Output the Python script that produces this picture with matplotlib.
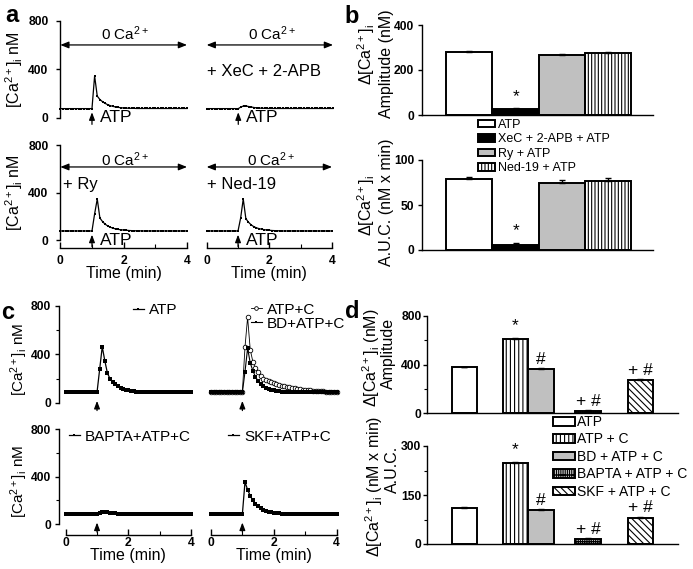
import numpy as np
import matplotlib
matplotlib.use("Agg")
import matplotlib.pyplot as plt

plt.rcParams['font.family'] = ['Liberation Sans', 'DejaVu Sans']
plt.rcParams['mathtext.fontset'] = 'custom'
plt.rcParams['mathtext.rm'] = 'Liberation Sans'
plt.rcParams['mathtext.it'] = 'Liberation Sans:italic'
plt.rcParams['mathtext.bf'] = 'Liberation Sans:bold'
plt.rcParams['mathtext.default'] = 'regular'
plt.rcParams['hatch.linewidth'] = 0.8

# ---------------- data ----------------
time_min = np.arange(49) * 5 / 60  # samples every 5 s, 0-4 min

a_atp = [75, 75, 75, 75, 75, 75, 75, 75, 75, 75, 75, 75, 75,
         345, 178, 150, 132, 118, 107, 99, 93, 88, 85, 82, 80, 79, 78, 77, 77, 76,
         76, 76, 76, 76, 76, 76, 76, 76, 76, 76, 76, 76, 76, 76, 76, 76, 76, 76, 76]
a_xec = [75, 75, 75, 75, 75, 75, 75, 75, 75, 75, 75, 75, 75,
         88, 97, 96, 92, 88, 84, 81, 79, 78, 77, 76,
         76, 76, 76, 76, 76, 76, 76, 76, 76, 76, 76, 76, 76, 76, 76, 76, 76, 76, 76, 76, 76, 76, 76, 76, 76]
a_ry = [76, 76, 76, 76, 76, 76, 76, 76, 76, 76, 76, 76, 76,
        220, 345, 185, 155, 133, 118, 107, 99, 93, 89, 86, 84, 82, 80, 79, 78, 77, 77,
        76, 76, 76, 76, 76, 76, 76, 76, 76, 76, 76, 76, 76, 76, 76, 76, 76, 76]
a_ned = [76, 76, 76, 76, 76, 76, 76, 76, 76, 76, 76, 76, 76,
         185, 345, 180, 150, 128, 113, 103, 96, 91, 87, 84, 82, 80, 79, 78, 77,
         76, 76, 76, 76, 76, 76, 76, 76, 76, 76, 76, 76, 76, 76, 76, 76, 76, 76, 76, 76]

c_atp = [86, 86, 86, 86, 86, 86, 86, 86, 86, 86, 86, 86, 86,
         275, 463, 345, 243, 198, 175, 158, 140, 125, 116, 108, 102, 98, 95, 92, 90, 89, 88, 87, 86,
         86, 86, 86, 86, 86, 86, 86, 86, 86, 86, 86, 86, 86, 86, 86, 86]
c_atpc = [87, 87, 87, 87, 87, 87, 87, 87, 87, 87, 87, 87, 87,
          460, 706, 440, 340, 285, 250, 222, 200, 184, 176, 168, 161, 154, 148, 142, 136,
          131, 126, 122, 118, 114, 111, 108, 105, 103, 101, 99, 97, 96, 94, 93, 92, 91, 90, 89, 89]
c_bd = [86, 86, 86, 86, 86, 86, 86, 86, 86, 86, 86, 86, 86,
        256, 450, 330, 265, 215, 180, 155, 137, 124, 114, 107, 101, 97, 94, 91, 89, 88, 87, 86,
        86, 86, 86, 86, 86, 86, 86, 86, 86, 86, 86, 86, 86, 86, 86, 86, 86]
c_bapta = [85, 85, 85, 85, 85, 85, 85, 85, 85, 85, 85, 85, 85,
           95, 103, 104, 101, 97, 94, 91, 89, 88, 87, 86,
           85, 85, 85, 85, 85, 85, 85, 85, 85, 85, 85, 85, 85, 85, 85, 85, 85, 85, 85, 85, 85, 85, 85, 85, 85]
c_skf = [85, 85, 85, 85, 85, 85, 85, 85, 85, 85, 85, 85, 85,
         355, 290, 240, 200, 172, 150, 134, 122, 113, 106, 101, 97, 94, 92, 90, 88, 87, 86,
         85, 85, 85, 85, 85, 85, 85, 85, 85, 85, 85, 85, 85, 85, 85, 85, 85, 85]

for s in (a_atp, a_xec, a_ry, a_ned, c_atp, c_atpc, c_bd, c_bapta, c_skf):
    assert len(s) == 49, len(s)

b_groups = ['ATP', 'XeC + 2-APB + ATP', 'Ry + ATP', 'Ned-19 + ATP']
b_amp = [278, 25, 268, 274]
b_amp_err = [5, 4, 5, 6]
b_auc = [78.5, 5.5, 75, 77]
b_auc_err = [3, 2, 3, 3.5]
b_marks = ['', '*', '', '']

d_groups = ['ATP', 'ATP + C', 'BD + ATP + C', 'BAPTA + ATP + C', 'SKF + ATP + C']
d_amp = [378, 612, 364, 20, 274]
d_amp_err = [6, 10, 8, 6, 8]
d_auc = [109, 248, 104, 14, 80]
d_auc_err = [4, 4, 4, 3, 4]
d_marks = ['', '*', '#', '+ #', '+ #']

# ---------------- layout helpers ----------------
W, H = 693, 569
fig = plt.figure(figsize=(W / 100, H / 100), dpi=100)


def px_ax(x0, x1, yb, yt):
    ax = fig.add_axes([x0 / W, 1 - yb / H, (x1 - x0) / W, (yb - yt) / H])
    ax.patch.set_visible(False)
    ax.spines['top'].set_visible(False)
    ax.spines['right'].set_visible(False)
    ax._px = (x0, x1, yb, yt)
    return ax


def fpt(x, y):
    return (x / W, 1 - y / H)


def bold_ticks(ax):
    for lab in ax.get_xticklabels() + ax.get_yticklabels():
        lab.set_fontweight('bold')
        lab.set_fontsize(8.7)


def set_ylabel_px(ax, text, xpx, yfrac=0.5, **kw):
    ax.set_ylabel(text, **kw)
    ax.yaxis.label.set_va('center')
    x0, x1, yb, yt = ax._px
    ax.yaxis.set_label_coords((xpx - x0) / (x1 - x0), yfrac)


def vtext(x, y, s, size):
    fig.text(*fpt(x, y), s, rotation=90, ha='center', va='center',
             rotation_mode='anchor', fontsize=size)


def trace_ax(x0, x1, yb, yt, show_y, show_x, y_out, x_out, ypad, xpad, minor_y):
    ax = px_ax(x0, x1, yb, yt)
    ax.set_xlim(0, 4)
    ax.set_ylim(0, 800)
    if show_y:
        ax.spines['left'].set_position(('outward', y_out))
        ax.set_yticks([0, 400, 800])
        if minor_y:
            ax.set_yticks([200, 600], minor=True)
        ax.tick_params(axis='y', which='major', direction='out', length=3, width=1, pad=ypad)
        ax.tick_params(axis='y', which='minor', direction='out', length=2, width=0.8)
    else:
        ax.spines['left'].set_visible(False)
        ax.tick_params(axis='y', which='both', left=False, labelleft=False)
    if show_x:
        ax.spines['bottom'].set_position(('outward', x_out))
        ax.set_xticks([0, 2, 4])
        ax.set_xticks([1, 3], minor=True)
        ax.tick_params(axis='x', which='major', direction='in', length=4, width=1, pad=xpad)
        ax.tick_params(axis='x', which='minor', direction='in', length=3, width=0.8)
        ax.set_xlabel('Time (min)', fontsize=11.5, labelpad=-1)
    else:
        ax.spines['bottom'].set_visible(False)
        ax.tick_params(axis='x', which='both', bottom=False, labelbottom=False)
    for sp in ax.spines.values():
        sp.set_linewidth(1.0)
    bold_ticks(ax)
    return ax


CA_LABEL = '[Ca$^{2+}$]$_{\\mathrm{i}}$ nM'

# ---------------- panel a ----------------
aTL = trace_ax(60.3, 187, 117.7, 20.7, True, False, 0, 6, 5.5, 5, False)
aTR = trace_ax(206.7, 333, 117.7, 20.7, False, False, 0, 6, 5.5, 5, False)
aBL = trace_ax(60.3, 187, 240, 145, True, True, 0, 6, 5.5, 5, False)
aBR = trace_ax(206.7, 332, 240, 145, False, True, 0, 6, 5.5, 5, False)

a_axes = [aTL, aTR, aBL, aBR]
a_series = [a_atp, a_xec, a_ry, a_ned]
a_notes = ['', '+ XeC + 2-APB', '+ Ry', '+ Ned-19']
a_note_xy = [(0, 0), (0.02, 348), (0.1, 431), (0.0, 431)]
a_arrow_y = [600, 600, 615, 615]
a_ca_y = [641, 641, 623, 623]

for ax, ser, note, nxy, ay, cy in zip(a_axes, a_series, a_notes, a_note_xy, a_arrow_y, a_ca_y):
    ax.plot(time_min, ser, color='k', lw=0.9, marker='s', ms=2.0, mew=0, clip_on=False)
    ax.annotate('', xy=(4, ay), xytext=(0, ay), annotation_clip=False,
                arrowprops=dict(arrowstyle='<|-|>,head_length=0.5,head_width=0.2',
                                color='k', lw=0.9, shrinkA=0, shrinkB=0))
    ax.text(2.05, cy, '0 Ca$^{2+}$', ha='center', va='baseline', fontsize=11)
    ax.annotate('', xy=(1, 45), xytext=(1, -55), annotation_clip=False,
                arrowprops=dict(arrowstyle='-|>,head_length=0.45,head_width=0.17',
                                color='k', lw=0.9, shrinkA=0, shrinkB=0))
    ax.text(1.25, 0, 'ATP', ha='left', va='center', fontsize=12.5)
    if note:
        ax.text(nxy[0], nxy[1], note, ha='left', va='baseline', fontsize=12)

set_ylabel_px(aTL, CA_LABEL, 14, fontsize=11.5)
set_ylabel_px(aBL, CA_LABEL, 14, fontsize=11.5)

# ---------------- panel c ----------------
cTL = trace_ax(65.7, 191, 402.7, 306, True, False, 4.6, 7.7, 3, 1.7, True)
cTR = trace_ax(211, 336.5, 402.7, 306, False, False, 4.6, 7.7, 3, 1.7, True)
cBL = trace_ax(65.7, 191, 524.3, 429, True, True, 4.6, 7.7, 3, 1.7, True)
cBR = trace_ax(211, 336.5, 524.3, 429, False, True, 4.6, 7.7, 3, 1.7, True)

l_atp, = cTL.plot(time_min, c_atp, color='k', lw=0.9, marker='s', ms=2.6, mew=0,
                  clip_on=False, label='ATP')
l_atpc, = cTR.plot(time_min, c_atpc, color='k', lw=0.6, marker='o', ms=3.3, mfc='white',
                   mec='k', mew=0.6, clip_on=False, label='ATP+C')
l_bd, = cTR.plot(time_min, c_bd, color='k', lw=0.8, marker='s', ms=2.4, mew=0,
                 clip_on=False, label='BD+ATP+C')
l_bapta, = cBL.plot(time_min, c_bapta, color='k', lw=0.9, marker='s', ms=2.2, mew=0,
                    clip_on=False, label='BAPTA+ATP+C')
l_skf, = cBR.plot(time_min, c_skf, color='k', lw=0.9, marker='s', ms=2.2, mew=0,
                  clip_on=False, label='SKF+ATP+C')

for ax in (cTL, cTR, cBL, cBR):
    ax.annotate('', xy=(1, 15), xytext=(1, -65), annotation_clip=False,
                arrowprops=dict(arrowstyle='-|>,head_length=0.45,head_width=0.17',
                                color='k', lw=0.9, shrinkA=0, shrinkB=0))

leg_kw = dict(frameon=False, fontsize=11, handlelength=0.7, handletextpad=0.35,
              borderpad=0, borderaxespad=0, labelspacing=0.0, markerscale=0.8,
              bbox_transform=fig.transFigure)
cTL.legend(handles=[l_atp], loc='center left', bbox_to_anchor=fpt(133, 310), **leg_kw)
cTR.legend(handles=[l_atpc, l_bd], loc='center left', bbox_to_anchor=fpt(251, 316.5), **leg_kw)
cBL.legend(handles=[l_bapta], loc='center left', bbox_to_anchor=fpt(69, 436.7), **leg_kw)
cBR.legend(handles=[l_skf], loc='center left', bbox_to_anchor=fpt(228, 436.7), **leg_kw)

set_ylabel_px(cTL, CA_LABEL, 19, yfrac=0.45, fontsize=11)
set_ylabel_px(cBL, CA_LABEL, 19, yfrac=0.45, fontsize=11)


# ---------------- bar panels ----------------
def bar_ax(x0, x1, yb, yt, pos, vals, errs, colors, hatches, ylim, yticks, yminor,
           xlim, marks, ypad):
    ax = px_ax(x0, x1, yb, yt)
    bars = ax.bar(pos, vals, width=1.0, color=colors, edgecolor='black', linewidth=1.4,
                  zorder=2)
    for b, h in zip(bars, hatches):
        if h:
            b.set_hatch(h)
    ax.errorbar(pos, vals, yerr=[np.zeros(len(vals)), errs], fmt='none', ecolor='black',
                elinewidth=1.0, capsize=2.5, capthick=1.0, zorder=3)
    for p, v, e, m in zip(pos, vals, errs, marks):
        if m:
            off = 5.5 if m == '*' else 3.0
            ax.annotate(m, xy=(p, v + e), xytext=(0, off), textcoords='offset points',
                        ha='center', va='baseline', fontsize=12.5)
    ax.set_xlim(*xlim)
    ax.set_ylim(*ylim)
    ax.set_xticks([])
    ax.set_yticks(yticks)
    if yminor:
        ax.set_yticks(yminor, minor=True)
    ax.tick_params(axis='y', which='major', direction='out', length=3, width=1, pad=ypad)
    ax.tick_params(axis='y', which='minor', direction='out', length=2, width=0.8)
    for sp in ax.spines.values():
        sp.set_linewidth(1.0)
    bold_ticks(ax)
    return ax, bars


DCA = '\u0394[Ca$^{2+}$]$_{\\mathrm{i}}$'
b_pos = [0, 1, 2, 3]
b_colors = ['white', 'black', '#c0c0c0', 'white']
b_hatches = [None, None, None, '|||||']
bTop, b_bars = bar_ax(421.7, 653, 115, 25, b_pos, b_amp, b_amp_err, b_colors, b_hatches,
                      (0, 400), [0, 200, 400], None, (-1.03, 3.97), b_marks, 2.4)
bBot, _ = bar_ax(421.7, 653, 250, 160, b_pos, b_auc, b_auc_err, b_colors, b_hatches,
                 (0, 100), [0, 50, 100], None, (-1.03, 3.97), b_marks, 2.4)
vtext(366, 54, DCA, 11.5)
vtext(386, 64, 'Amplitude (nM)', 11.5)
vtext(366, 205, DCA, 11.5)
vtext(386, 202, 'A.U.C. (nM x min)', 11.5)
bTop.legend(handles=list(b_bars), labels=b_groups, loc='upper left',
            bbox_to_anchor=fpt(477.7, 119), bbox_transform=fig.transFigure,
            frameon=False, fontsize=9, handlelength=1.4, handleheight=0.55,
            handletextpad=0.2, borderpad=0, borderaxespad=0, labelspacing=0.2)

d_pos = [0, 2, 3, 4.85, 6.9]
d_colors = ['white', 'white', '#c0c0c0', 'white', 'white']
d_hatches = [None, '||||', None, '|||||||||-', '\\\\\\\\\\']
dTop, d_bars = bar_ax(427.3, 678.3, 413.3, 316, d_pos, d_amp, d_amp_err, d_colors, d_hatches,
                      (0, 800), [0, 400, 800], [200, 600], (-1.45, 8.39), d_marks, 1.2)
dBot, _ = bar_ax(427.3, 678.3, 544, 446, d_pos, d_auc, d_auc_err, d_colors, d_hatches,
                 (0, 300), [0, 150, 300], [75, 225], (-1.45, 8.39), d_marks, 1.2)
vtext(371, 358, DCA + ' (nM)', 11.5)
vtext(388, 353, 'Amplitude', 11.5)
vtext(374, 486, DCA + ' (nM x min)', 11.5)
vtext(392, 469, 'A.U.C.', 11.5)
dTop.legend(handles=list(d_bars), labels=d_groups, loc='upper left',
            bbox_to_anchor=fpt(553.3, 415), bbox_transform=fig.transFigure,
            frameon=False, fontsize=10, handlelength=1.55, handleheight=0.6,
            handletextpad=0.15, borderpad=0, borderaxespad=0, labelspacing=0.25)

# ---------------- panel letters ----------------
for letter, (x, y) in zip('abcd', [(5, 22), (344, 23), (1, 319), (345, 318)]):
    fig.text(*fpt(x, y), letter, fontsize=17, fontweight='bold', ha='left', va='baseline')

fig.savefig('out.png', dpi=100)
